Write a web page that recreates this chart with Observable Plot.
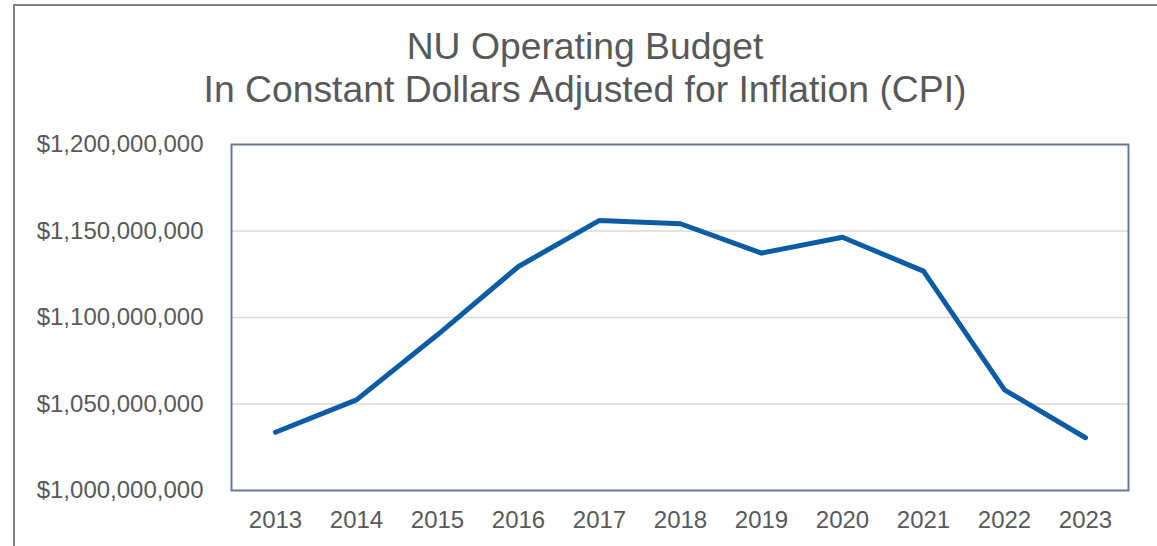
<!DOCTYPE html>
<html>
<head>
<meta charset="utf-8">
<script src="https://cdn.jsdelivr.net/npm/d3@7"></script>
<script src="https://cdn.jsdelivr.net/npm/@observablehq/plot@0.6"></script>
<style>
  html, body { margin: 0; padding: 0; background: #fff; overflow: hidden; }
  #wrap { position: relative; width: 1157px; height: 546px; font-family: "Liberation Sans", Arial, sans-serif; }
  #border { position: absolute; left: 13px; top: 4px; width: 1200px; height: 600px; border-left: 2px solid #7f7f7f; border-top: 2px solid #7f7f7f; box-sizing: border-box; pointer-events: none; }
  #title { width: 1170px; height: 118px; box-sizing: border-box; padding-top: 25px; text-align: center; color: #595959; font-size: 37.3px; line-height: 43px; }
  #chart svg { display: block; }
</style>
</head>
<body>
<div id="wrap">
  <div id="title">NU Operating Budget<br>In Constant Dollars Adjusted for Inflation (CPI)</div>
  <div id="chart"></div>
  <div id="border"></div>
</div>
<script>
const years = ["2013","2014","2015","2016","2017","2018","2019","2020","2021","2022","2023"];
const budget = [1033.7e6, 1052.4e6, 1090.0e6, 1129.5e6, 1156.1e6, 1154.2e6, 1137.2e6, 1146.4e6, 1126.8e6, 1058.2e6, 1030.5e6];
const yTicks = [1.0e9, 1.05e9, 1.1e9, 1.15e9, 1.2e9];
const gridTicks = [1.05e9, 1.1e9, 1.15e9];

const data = years.map((y, i) => ({year: y, value: budget[i]}));

const chart = Plot.plot({
  width: 1157,
  height: 428,
  marginLeft: 231,
  marginRight: 29,
  marginTop: 26,
  marginBottom: 56,
  style: {fontFamily: "'Liberation Sans', Arial, sans-serif", fontSize: "24px", color: "#595959", background: "#fff"},
  x: {type: "point", domain: years, padding: 0.5, label: null},
  y: {domain: [1.0e9, 1.2e9], label: null},
  marks: [
    Plot.gridY(gridTicks, {stroke: "#d9d9d9", strokeOpacity: 1, strokeWidth: 1.5}),
    Plot.axisX({tickSize: 0, tickPadding: 20, fill: "#595959", label: null}),
    Plot.axisY(yTicks, {tickSize: 0, tickPadding: 28, tickFormat: d3.format("$,.0f"), fill: "#595959", label: null}),
    Plot.lineY(data, {x: "year", y: "value", stroke: "#0B5CA5", strokeWidth: 5, strokeLinecap: "round", strokeLinejoin: "round"}),
    Plot.frame({stroke: "#6b788e", strokeWidth: 2})
  ]
});
document.getElementById("chart").appendChild(chart);
</script>
</body>
</html>
